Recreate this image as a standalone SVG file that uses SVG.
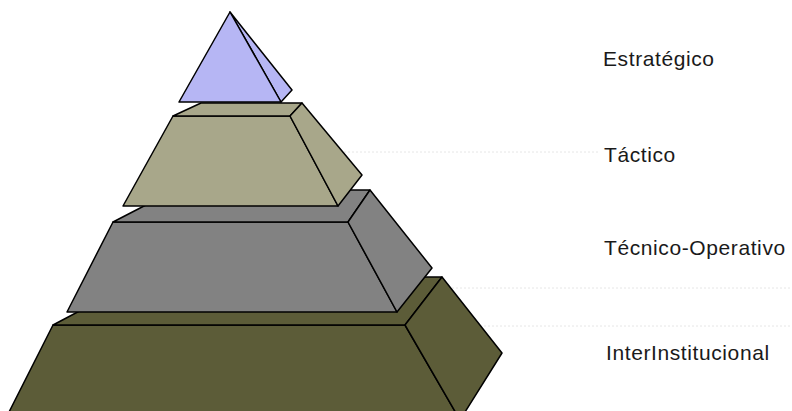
<svg xmlns="http://www.w3.org/2000/svg" width="792" height="411" viewBox="0 0 792 411">
  <style>
    .edge { stroke: #000; stroke-width: 1.5; stroke-linejoin: round; }
    .olive { fill: #5c5c38; }
    .gray { fill: #828282; }
    .khaki { fill: #a8a78a; }
    .blue { fill: #b6b6f4; }
    .label { font-family: "Liberation Sans", Arial, sans-serif; font-size: 21px; letter-spacing: 0.6px; fill: #1a1a1a; }
    .guide { stroke: #e6e6e6; stroke-width: 1; stroke-dasharray: 2 2; fill: none; }
  </style>
  <rect width="792" height="411" fill="#ffffff"/>
  <g id="guides">
    <line class="guide" x1="340" y1="152" x2="600" y2="152"/>
    <line class="guide" x1="440" y1="288" x2="792" y2="288"/>
    <line class="guide" x1="480" y1="326" x2="792" y2="326"/>
  </g>
  <g id="interinstitucional">
    <polygon class="olive edge" points="53,325 405,325 460,420 5,420"/>
    <polygon class="olive edge" points="53,325 144,277 442,277 405,325"/>
    <polygon class="olive edge" points="405,325 442,277 502,353 460,420"/>
    <text class="label" x="606" y="360">InterInstitucional</text>
  </g>
  <g id="tecnico-operativo">
    <polygon class="gray edge" points="113,222 348,222 397,312 67,312"/>
    <polygon class="gray edge" points="113,222 175,190 370,190 348,222"/>
    <polygon class="gray edge" points="348,222 370,190 432,268 397,312"/>
    <text class="label" x="604" y="255">Técnico-Operativo</text>
  </g>
  <g id="tactico">
    <polygon class="khaki edge" points="173,116 290,116 338,206 123,206"/>
    <polygon class="khaki edge" points="173,116 201,103 302,103 290,116"/>
    <polygon class="khaki edge" points="290,116 302,103 362,175 338,206"/>
    <text class="label" x="604" y="162">Táctico</text>
  </g>
  <g id="estrategico">
    <polygon class="blue edge" points="230,12 292,90 281,102"/>
    <polygon class="blue edge" points="230,12 179,102 281,102"/>
    <text class="label" x="603" y="66">Estratégico</text>
  </g>
</svg>
